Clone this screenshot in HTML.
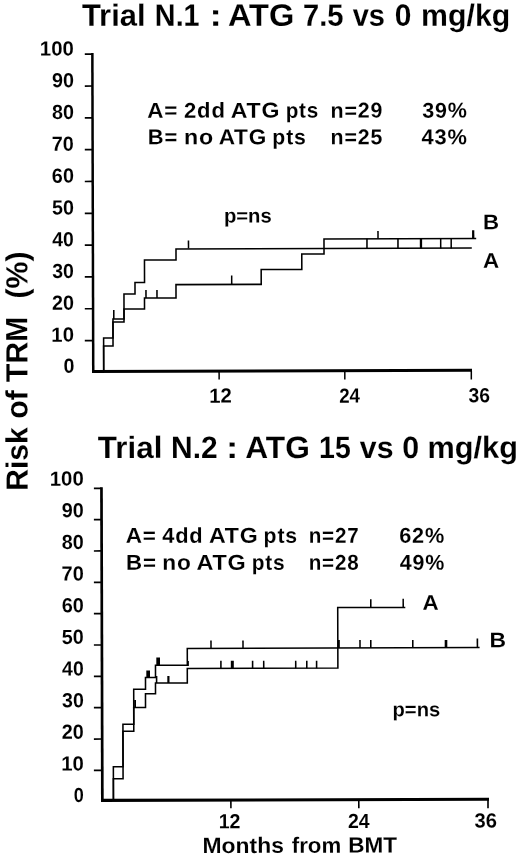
<!DOCTYPE html>
<html><head><meta charset="utf-8"><title>Risk of TRM</title>
<style>
html,body{margin:0;padding:0;background:#fff;}
body{width:520px;height:856px;overflow:hidden;}
svg{display:block;}
svg text{font-family:"Liberation Sans",sans-serif;font-weight:bold;fill:#000;stroke:#fff;white-space:pre;}
svg line,svg polyline{stroke:#000;fill:none;stroke-linecap:butt;stroke-linejoin:miter;}
svg .f{fill:#000;stroke:none;}
</style></head><body>
<svg width="520" height="856" viewBox="0 0 520 856">
<rect x="0" y="0" width="520" height="856" fill="#fff"/>
<g transform="rotate(-0.16 260 428)">
<text transform="translate(83.04,25.29) scale(1.0061,1)" font-size="30.8" stroke-width="0.12">Trial</text>
<text transform="translate(155.98,25.47) scale(0.9340,1)" font-size="30.8" stroke-width="0.12">N.1</text>
<text transform="translate(210.62,25.58) scale(1.1962,1)" font-size="30.8" stroke-width="0.12">:</text>
<text transform="translate(229.06,25.70) scale(1.0598,1)" font-size="30.8" stroke-width="0.12">ATG</text>
<text transform="translate(304.08,25.88) scale(0.9494,1)" font-size="30.8" stroke-width="0.12">7.5</text>
<text transform="translate(353.78,26.00) scale(0.9435,1)" font-size="30.8" stroke-width="0.12">vs</text>
<text transform="translate(395.92,26.10) scale(0.9774,1)" font-size="30.8" stroke-width="0.12">0</text>
<text transform="translate(422.15,26.28) scale(0.9838,1)" font-size="30.8" stroke-width="0.12">mg/kg</text>
<text transform="translate(97.67,457.53) scale(1.0201,1)" font-size="30.8" stroke-width="0.12">Trial</text>
<text transform="translate(170.89,457.72) scale(0.9757,1)" font-size="30.8" stroke-width="0.12">N.2</text>
<text transform="translate(225.88,457.82) scale(1.2076,1)" font-size="30.8" stroke-width="0.12">:</text>
<text transform="translate(245.12,457.95) scale(1.0323,1)" font-size="30.8" stroke-width="0.12">ATG</text>
<text transform="translate(319.03,458.11) scale(0.9263,1)" font-size="30.8" stroke-width="0.12">15</text>
<text transform="translate(359.76,458.22) scale(0.9847,1)" font-size="30.8" stroke-width="0.12">vs</text>
<text transform="translate(402.19,458.32) scale(0.9911,1)" font-size="30.8" stroke-width="0.12">0</text>
<text transform="translate(427.32,458.49) scale(0.9988,1)" font-size="30.8" stroke-width="0.12">mg/kg</text>
<rect x="92.15" y="52.63" width="2.5" height="319.4" class="f"/>
<rect x="92.16" y="369.46" width="380.0" height="3.0" class="f"/>
<line x1="85.84" y1="53.72" x2="93.54" y2="53.72" stroke-width="1.7"/>
<line x1="85.76" y1="85.54" x2="93.46" y2="85.54" stroke-width="1.7"/>
<line x1="85.67" y1="117.36" x2="93.37" y2="117.36" stroke-width="1.7"/>
<line x1="85.58" y1="149.18" x2="93.28" y2="149.18" stroke-width="1.7"/>
<line x1="85.49" y1="181.00" x2="93.19" y2="181.00" stroke-width="1.7"/>
<line x1="85.40" y1="212.82" x2="93.10" y2="212.82" stroke-width="1.7"/>
<line x1="85.31" y1="244.64" x2="93.01" y2="244.64" stroke-width="1.7"/>
<line x1="85.22" y1="276.46" x2="92.92" y2="276.46" stroke-width="1.7"/>
<line x1="85.13" y1="308.28" x2="92.83" y2="308.28" stroke-width="1.7"/>
<line x1="85.04" y1="340.10" x2="92.74" y2="340.10" stroke-width="1.7"/>
<line x1="219.25" y1="370.89" x2="219.25" y2="379.49" stroke-width="1.5"/>
<line x1="344.95" y1="371.24" x2="344.95" y2="379.84" stroke-width="1.5"/>
<line x1="471.45" y1="371.59" x2="471.45" y2="380.19" stroke-width="1.5"/>
<text transform="translate(40.86,54.83) scale(1.0023,1)" font-size="20.4" stroke-width="0.08">100</text>
<text transform="translate(52.86,86.65) scale(0.9709,1)" font-size="20.4" stroke-width="0.08">90</text>
<text transform="translate(52.82,118.45) scale(0.9686,1)" font-size="20.4" stroke-width="0.08">80</text>
<text transform="translate(52.53,150.25) scale(0.9780,1)" font-size="20.4" stroke-width="0.08">70</text>
<text transform="translate(52.54,182.05) scale(0.9733,1)" font-size="20.4" stroke-width="0.08">60</text>
<text transform="translate(52.56,213.85) scale(0.9686,1)" font-size="20.4" stroke-width="0.08">50</text>
<text transform="translate(52.82,245.65) scale(0.9525,1)" font-size="20.4" stroke-width="0.08">40</text>
<text transform="translate(52.58,277.45) scale(0.9593,1)" font-size="20.4" stroke-width="0.08">30</text>
<text transform="translate(52.24,309.25) scale(0.9709,1)" font-size="20.4" stroke-width="0.08">20</text>
<text transform="translate(51.57,341.05) scale(0.9974,1)" font-size="20.4" stroke-width="0.08">10</text>
<text transform="translate(63.56,372.27) scale(0.9701,1)" font-size="20.4" stroke-width="0.08">0</text>
<text transform="translate(209.30,402.49) scale(0.9974,1)" font-size="20.4" stroke-width="0.08">12</text>
<text transform="translate(339.21,402.85) scale(0.9208,1)" font-size="20.4" stroke-width="0.08">24</text>
<text transform="translate(468.64,402.81) scale(0.9501,1)" font-size="20.4" stroke-width="0.08">36</text>
<text transform="translate(148.11,117.33) scale(1.0476,1)" font-size="21.4" letter-spacing="0.764" stroke-width="0.09">A=</text>
<text transform="translate(184.89,117.45) scale(1.0335,1)" font-size="21.4" letter-spacing="0.774" stroke-width="0.09">2dd</text>
<text transform="translate(231.59,117.59) scale(1.0808,1)" font-size="21.4" letter-spacing="0.740" stroke-width="0.09">ATG</text>
<text transform="translate(286.52,117.72) scale(0.9681,1)" font-size="21.4" letter-spacing="0.826" stroke-width="0.09">pts</text>
<text transform="translate(331.47,117.87) scale(1.0035,1)" font-size="21.4" letter-spacing="0.797" stroke-width="0.09">n=29</text>
<text transform="translate(423.08,118.12) scale(1.0076,1)" font-size="21.4" letter-spacing="0.794" stroke-width="0.09">39%</text>
<text transform="translate(148.61,144.03) scale(1.0263,1)" font-size="21.4" letter-spacing="0.780" stroke-width="0.09">B=</text>
<text transform="translate(184.68,144.13) scale(1.0872,1)" font-size="21.4" letter-spacing="0.736" stroke-width="0.09">no</text>
<text transform="translate(219.43,144.25) scale(1.0592,1)" font-size="21.4" letter-spacing="0.755" stroke-width="0.09">ATG</text>
<text transform="translate(273.16,144.38) scale(0.9932,1)" font-size="21.4" letter-spacing="0.805" stroke-width="0.09">pts</text>
<text transform="translate(331.40,144.57) scale(1.0001,1)" font-size="21.4" letter-spacing="0.800" stroke-width="0.09">n=25</text>
<text transform="translate(422.36,144.82) scale(1.0228,1)" font-size="21.4" letter-spacing="0.782" stroke-width="0.09">43%</text>
<text transform="translate(224.45,222.47) scale(1.0155,1)" font-size="20" stroke-width="0.08">p=ns</text>
<text transform="translate(483.65,229.85) scale(1.0617,1)" font-size="21" stroke-width="0.08">B</text>
<text transform="translate(483.39,268.35) scale(1.0661,1)" font-size="21" stroke-width="0.08">A</text>
<polyline points="103.86,369.56 103.86,337.58 113.28,337.58 113.28,318.61 124.34,318.61 124.34,293.64 135.39,293.64 135.39,282.16 144.94,282.16 144.94,259.72 176.49,259.72 176.49,248.68 472.30,248.68" stroke-width="1.55"/>
<polyline points="103.85,369.56 103.85,345.58 113.26,345.58 113.26,321.61 124.31,321.61 124.31,308.65 144.85,308.65 144.85,297.72 176.38,297.72 176.38,284.38 261.62,284.38 261.62,269.56 302.26,269.56 302.26,254.15 324.51,254.15 324.51,239.09 476.73,239.09" stroke-width="1.55"/>
<line x1="114.12" y1="309.59" x2="114.12" y2="318.59" stroke-width="1.55"/>
<line x1="189.01" y1="240.30" x2="189.01" y2="248.30" stroke-width="1.55"/>
<line x1="146.37" y1="289.68" x2="146.37" y2="297.68" stroke-width="1.55"/>
<line x1="157.37" y1="289.71" x2="157.37" y2="297.71" stroke-width="1.55"/>
<line x1="232.11" y1="275.42" x2="232.11" y2="284.42" stroke-width="1.55"/>
<line x1="378.54" y1="231.33" x2="378.54" y2="239.03" stroke-width="1.55"/>
<line x1="473.74" y1="230.80" x2="473.74" y2="239.30" stroke-width="2.3"/>
<line x1="367.51" y1="239.00" x2="367.51" y2="248.80" stroke-width="1.55"/>
<line x1="398.51" y1="239.09" x2="398.51" y2="248.89" stroke-width="1.55"/>
<line x1="421.51" y1="239.15" x2="421.51" y2="248.95" stroke-width="2.3"/>
<line x1="441.21" y1="239.21" x2="441.21" y2="249.01" stroke-width="1.55"/>
<line x1="451.71" y1="239.23" x2="451.71" y2="249.03" stroke-width="1.55"/>
<rect x="99.95" y="486.86" width="2.7" height="314.3" class="f"/>
<rect x="99.96" y="798.40" width="388.0" height="3.1" class="f"/>
<line x1="93.73" y1="487.85" x2="101.33" y2="487.85" stroke-width="1.7"/>
<line x1="93.64" y1="519.19" x2="101.24" y2="519.19" stroke-width="1.7"/>
<line x1="93.56" y1="550.53" x2="101.16" y2="550.53" stroke-width="1.7"/>
<line x1="93.47" y1="581.87" x2="101.07" y2="581.87" stroke-width="1.7"/>
<line x1="93.38" y1="613.21" x2="100.98" y2="613.21" stroke-width="1.7"/>
<line x1="93.29" y1="644.55" x2="100.89" y2="644.55" stroke-width="1.7"/>
<line x1="93.21" y1="675.89" x2="100.81" y2="675.89" stroke-width="1.7"/>
<line x1="93.12" y1="707.23" x2="100.72" y2="707.23" stroke-width="1.7"/>
<line x1="93.03" y1="738.57" x2="100.63" y2="738.57" stroke-width="1.7"/>
<line x1="92.94" y1="769.91" x2="100.54" y2="769.91" stroke-width="1.7"/>
<line x1="229.85" y1="799.92" x2="229.85" y2="808.12" stroke-width="1.6"/>
<line x1="357.75" y1="800.27" x2="357.75" y2="808.47" stroke-width="1.6"/>
<line x1="486.95" y1="800.64" x2="486.95" y2="808.84" stroke-width="1.6"/>
<text transform="translate(49.56,485.06) scale(1.0023,1)" font-size="20.4" stroke-width="0.08">100</text>
<text transform="translate(61.45,516.73) scale(0.9757,1)" font-size="20.4" stroke-width="0.08">90</text>
<text transform="translate(61.42,548.38) scale(0.9733,1)" font-size="20.4" stroke-width="0.08">80</text>
<text transform="translate(61.12,580.03) scale(0.9828,1)" font-size="20.4" stroke-width="0.08">70</text>
<text transform="translate(61.14,611.68) scale(0.9780,1)" font-size="20.4" stroke-width="0.08">60</text>
<text transform="translate(61.15,643.33) scale(0.9733,1)" font-size="20.4" stroke-width="0.08">50</text>
<text transform="translate(61.42,674.98) scale(0.9572,1)" font-size="20.4" stroke-width="0.08">40</text>
<text transform="translate(61.18,706.63) scale(0.9640,1)" font-size="20.4" stroke-width="0.08">30</text>
<text transform="translate(60.84,738.28) scale(0.9757,1)" font-size="20.4" stroke-width="0.08">20</text>
<text transform="translate(60.17,769.93) scale(1.0023,1)" font-size="20.4" stroke-width="0.08">10</text>
<text transform="translate(72.63,801.59) scale(0.8875,1)" font-size="20.4" stroke-width="0.08">0</text>
<text transform="translate(217.55,828.11) scale(0.9634,1)" font-size="20.4" stroke-width="0.08">12</text>
<text transform="translate(346.80,828.28) scale(0.9575,1)" font-size="20.4" stroke-width="0.08">24</text>
<text transform="translate(473.43,828.03) scale(0.9920,1)" font-size="20.4" stroke-width="0.08">36</text>
<text transform="translate(201.27,852.85) scale(1.0424,1)" font-size="22" stroke-width="0.09">Months</text>
<text transform="translate(290.52,852.85) scale(1.0141,1)" font-size="22" stroke-width="0.09">from</text>
<text transform="translate(347.09,852.81) scale(1.0256,1)" font-size="22" stroke-width="0.09">BMT</text>
<text transform="translate(125.37,542.37) scale(1.0533,1)" font-size="21.4" letter-spacing="0.760" stroke-width="0.09">A=</text>
<text transform="translate(161.85,542.48) scale(1.0227,1)" font-size="21.4" letter-spacing="0.782" stroke-width="0.09">4dd</text>
<text transform="translate(208.60,542.62) scale(1.0820,1)" font-size="21.4" letter-spacing="0.739" stroke-width="0.09">ATG</text>
<text transform="translate(263.30,542.76) scale(0.9932,1)" font-size="21.4" letter-spacing="0.805" stroke-width="0.09">pts</text>
<text transform="translate(308.34,542.91) scale(0.9654,1)" font-size="21.4" letter-spacing="0.829" stroke-width="0.09">n=27</text>
<text transform="translate(398.86,543.15) scale(1.0166,1)" font-size="21.4" letter-spacing="0.787" stroke-width="0.09">62%</text>
<text transform="translate(125.60,569.37) scale(1.0419,1)" font-size="21.4" letter-spacing="0.768" stroke-width="0.09">B=</text>
<text transform="translate(161.87,569.47) scale(1.0642,1)" font-size="21.4" letter-spacing="0.752" stroke-width="0.09">no</text>
<text transform="translate(196.02,569.59) scale(1.0951,1)" font-size="21.4" letter-spacing="0.731" stroke-width="0.09">ATG</text>
<text transform="translate(251.25,569.72) scale(0.9765,1)" font-size="21.4" letter-spacing="0.819" stroke-width="0.09">pts</text>
<text transform="translate(308.26,569.91) scale(0.9642,1)" font-size="21.4" letter-spacing="0.830" stroke-width="0.09">n=28</text>
<text transform="translate(399.28,570.15) scale(1.0049,1)" font-size="21.4" letter-spacing="0.796" stroke-width="0.09">49%</text>
<text transform="translate(391.68,716.64) scale(1.0133,1)" font-size="20" stroke-width="0.08">p=ns</text>
<text transform="translate(421.93,610.08) scale(1.0661,1)" font-size="21" stroke-width="0.08">A</text>
<text transform="translate(488.84,647.96) scale(1.0929,1)" font-size="21" stroke-width="0.08">B</text>
<polyline points="112.41,798.59 112.41,766.35 122.11,766.35 122.11,723.88 132.97,723.88 132.97,688.91 144.79,688.91 144.79,677.19 154.82,677.19 154.82,665.05 186.66,665.05 186.66,648.20 478.98,648.20" stroke-width="1.55"/>
<polyline points="112.39,798.59 112.39,778.35 122.09,778.35 122.09,730.88 132.94,730.88 132.94,707.16 144.74,707.16 144.74,693.44 154.77,693.44 154.77,682.75 186.61,682.75 186.61,668.31 337.21,668.31 337.21,607.81 404.80,607.81" stroke-width="1.55"/>
<rect x="133.43" y="699.65" width="1.8" height="7.5" class="f"/>
<rect x="145.61" y="670.19" width="3.7" height="7" class="f"/>
<rect x="155.65" y="657.21" width="3.7" height="7.8" class="f"/>
<line x1="155.90" y1="675.71" x2="155.90" y2="682.71" stroke-width="1.55"/>
<rect x="166.60" y="675.74" width="2.2" height="7" class="f"/>
<rect x="186.64" y="660.80" width="1.6" height="5" class="f"/>
<line x1="210.40" y1="640.36" x2="210.40" y2="647.86" stroke-width="1.55"/>
<line x1="242.40" y1="640.45" x2="242.40" y2="647.95" stroke-width="1.55"/>
<line x1="220.24" y1="660.59" x2="220.24" y2="668.19" stroke-width="1.55"/>
<line x1="231.64" y1="660.62" x2="231.64" y2="668.22" stroke-width="3.0"/>
<line x1="251.94" y1="660.68" x2="251.94" y2="668.28" stroke-width="1.55"/>
<line x1="263.04" y1="660.71" x2="263.04" y2="668.31" stroke-width="1.55"/>
<line x1="295.04" y1="660.80" x2="295.04" y2="668.40" stroke-width="1.55"/>
<line x1="306.14" y1="660.83" x2="306.14" y2="668.43" stroke-width="1.55"/>
<line x1="315.94" y1="660.86" x2="315.94" y2="668.46" stroke-width="1.55"/>
<line x1="338.20" y1="640.22" x2="338.20" y2="648.22" stroke-width="2.0"/>
<line x1="359.40" y1="640.28" x2="359.40" y2="648.28" stroke-width="1.55"/>
<line x1="370.20" y1="640.31" x2="370.20" y2="648.31" stroke-width="1.55"/>
<line x1="412.20" y1="640.43" x2="412.20" y2="648.43" stroke-width="1.55"/>
<line x1="445.40" y1="640.52" x2="445.40" y2="648.52" stroke-width="2.6"/>
<line x1="476.80" y1="639.11" x2="476.80" y2="648.61" stroke-width="1.6"/>
<line x1="370.31" y1="599.61" x2="370.31" y2="607.81" stroke-width="1.55"/>
<line x1="402.71" y1="599.20" x2="402.71" y2="607.90" stroke-width="1.55"/>
<text transform="translate(27.57,490.17) rotate(-90) scale(0.9793,1)" font-size="30.8" stroke-width="0.12">Risk of TRM</text>
<text transform="translate(27.93,297.95) rotate(-90) scale(0.9841,1)" font-size="30.8" stroke-width="0.12">(%)</text>
</g>
</svg>
</body></html>
